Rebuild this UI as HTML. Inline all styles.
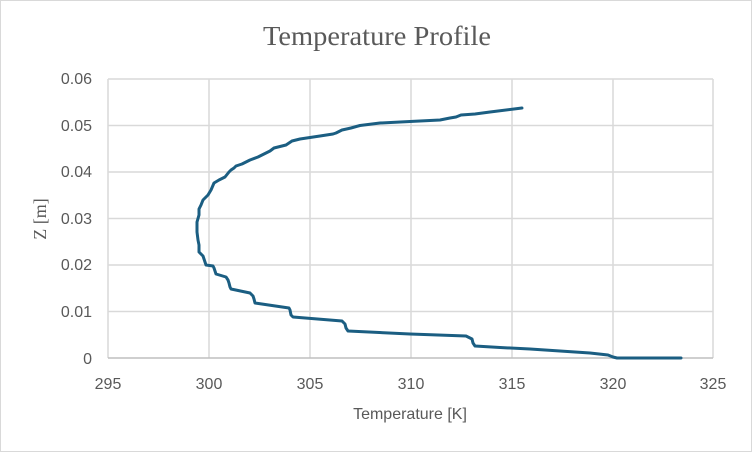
<!DOCTYPE html>
<html><head><style>
html,body{margin:0;padding:0;background:#fff;}
svg{display:block;}
</style></head><body>
<svg width="752" height="452" xmlns="http://www.w3.org/2000/svg">
<rect x="0.5" y="0.5" width="751" height="451" fill="#fff" stroke="#d9d9d9"/>
<text x="377" y="45" text-anchor="middle" font-family="Liberation Serif, serif" font-size="27" fill="#595959" textLength="228" lengthAdjust="spacingAndGlyphs">Temperature Profile</text>
<g stroke="#d9d9d9" stroke-width="1.5">
<line x1="108" y1="79" x2="713" y2="79"/>
<line x1="108" y1="125.5" x2="713" y2="125.5"/>
<line x1="108" y1="172" x2="713" y2="172"/>
<line x1="108" y1="218.5" x2="713" y2="218.5"/>
<line x1="108" y1="265" x2="713" y2="265"/>
<line x1="108" y1="311.5" x2="713" y2="311.5"/>
<line x1="209" y1="79" x2="209" y2="358"/>
<line x1="310" y1="79" x2="310" y2="358"/>
<line x1="411" y1="79" x2="411" y2="358"/>
<line x1="512" y1="79" x2="512" y2="358"/>
<line x1="613" y1="79" x2="613" y2="358"/>
<line x1="713" y1="79" x2="713" y2="358"/>
<line x1="108" y1="79" x2="108" y2="358"/>
</g>
<line x1="108" y1="358" x2="713" y2="358" stroke="#bfbfbf" stroke-width="1.5"/>
<g font-family="Liberation Sans, sans-serif" font-size="16" fill="#595959" text-anchor="end">
<text x="92" y="84">0.06</text>
<text x="92" y="131">0.05</text>
<text x="92" y="177">0.04</text>
<text x="92" y="224">0.03</text>
<text x="92" y="270">0.02</text>
<text x="92" y="317">0.01</text>
<text x="92" y="364">0</text>
</g>
<g font-family="Liberation Sans, sans-serif" font-size="16" fill="#595959" text-anchor="middle">
<text x="108" y="389">295</text>
<text x="209" y="389">300</text>
<text x="310" y="389">305</text>
<text x="411" y="389">310</text>
<text x="512" y="389">315</text>
<text x="613" y="389">320</text>
<text x="713" y="389">325</text>
<text x="410" y="419" font-size="16">Temperature [K]</text>
</g>
<text transform="translate(46,219) rotate(-90)" text-anchor="middle" font-family="Liberation Serif, serif" font-size="18" fill="#595959">Z [m]</text>
<polyline fill="none" stroke="#1b5e82" stroke-width="3" stroke-linejoin="round" stroke-linecap="round"
points="681,358 617,358 613,357 608,355 590,353 560,351 530,349 500,347.5 475,346 473,343 472,339 466,336 410,334 348,331 346,328 345,324 342,321 293,317 291,315 290,310 289,308 255,303 254,299 253,296 250,293 231,289 230,287 229,283 228,280 226,277 216,274 215,271 214,268 213,266 206,265 205,262 204,259 203,256 199,252 199,245 198,240 197,232 197,222 199,215 199,209 201,205 203,200 206,197 208,195 211,190 214,183 219,180 225,177 229,172 231,170 234,168 236,166 242,164 250,160 258,157 262,155 266,153 270,151 274,148 282,146 286,145 289,143 292,141 300,139 320,136 333,134 336,133 342,130 351,128 360,125.5 380,123 410,121.5 440,120 450,118 456,117 461,115 475,114 490,112 522,108"/>
</svg>
</body></html>
